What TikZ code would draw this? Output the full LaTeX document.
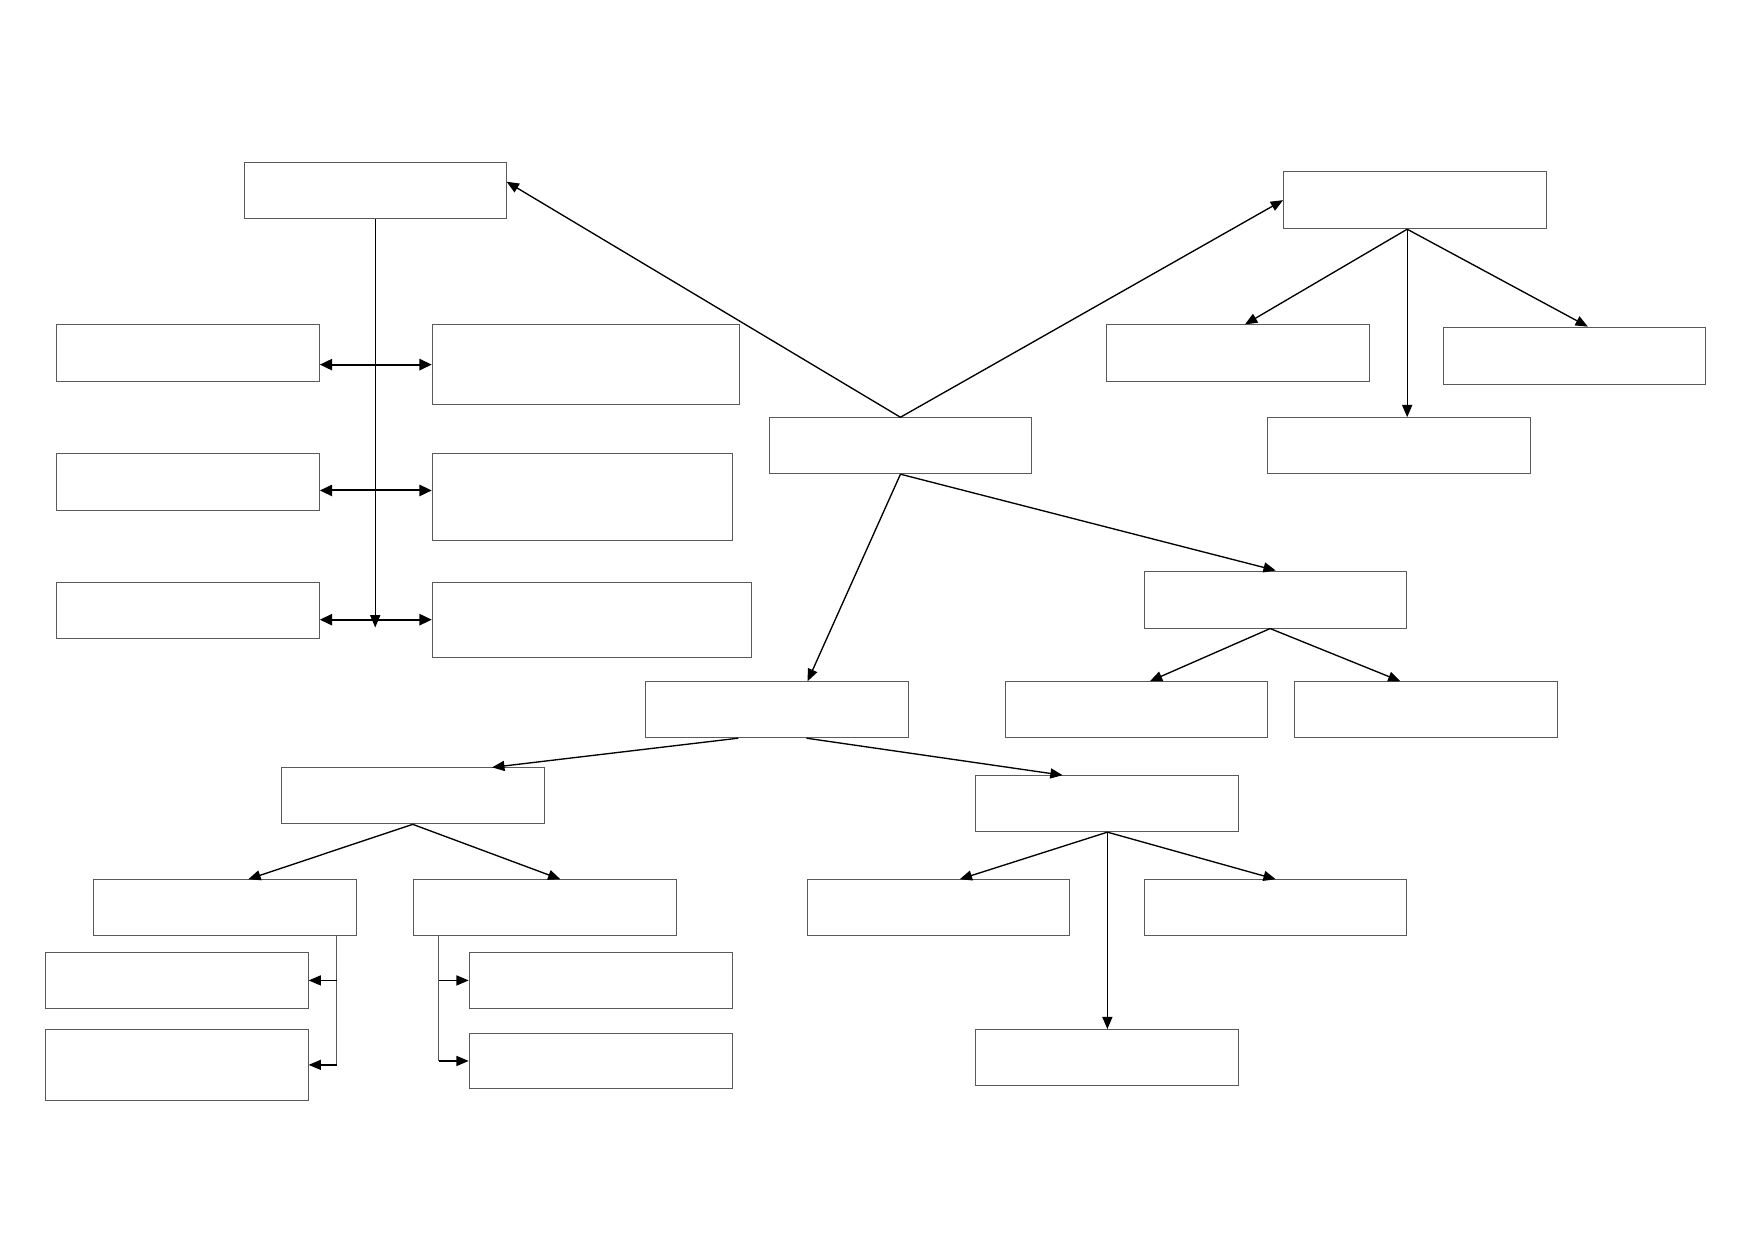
\documentclass[tikz,border=0pt]{standalone}
\usetikzlibrary{arrows.meta}
\begin{document}
\begin{tikzpicture}[x=1pt,y=1pt,yscale=-1,xscale=1,
        blank/.style={draw={rgb, 255:red, 90; green, 90; blue, 90 },line width=0.9pt,inner sep=0pt,anchor=north west,minimum width=235pt,minimum height=50pt},
        link/.style={line width=1.2pt,-{Triangle[length=11pt,width=9pt]}},
        twoway/.style={line width=1.8pt,{Triangle[length=11pt,width=10pt]}-{Triangle[length=11pt,width=10pt]}},
        stem/.style={draw={rgb, 255:red, 90; green, 90; blue, 90 },line width=0.9pt}]
        \useasboundingbox (0,0) rectangle (1568,1108);
        \node [blank,minimum width=234pt] (A) at (218,145) {};
        \node [blank,minimum height=51pt] (L1) at (50,290) {};
        \node [blank,minimum height=51pt] (L2) at (50,405) {};
        \node [blank] (L3) at (50,520) {};
        \node [blank,minimum width=275pt,minimum height=71pt] (R1) at (386,290) {};
        \node [blank,minimum width=268pt,minimum height=78pt] (R2) at (386,405) {};
        \node [blank,minimum width=285pt,minimum height=67pt] (R3) at (386,520) {};
        \node [blank] (C) at (687,373) {};
        \node [blank,minimum height=51pt] (T) at (1147,153) {};
        \node [blank,minimum height=51pt] (T1) at (989,290) {};
        \node [blank,minimum width=234pt,minimum height=51pt] (T2) at (1290,292) {};
        \node [blank] (T3) at (1133,373) {};
        \node [blank,minimum width=234pt,minimum height=51pt] (M) at (1023,510) {};
        \node [blank] (M1) at (898,609) {};
        \node [blank] (M2) at (1157,609) {};
        \node [blank] (D) at (577,609) {};
        \node [blank] (E) at (251,686) {};
        \node [blank] (F) at (872,693) {};
        \node [blank] (E1) at (83,786) {};
        \node [blank] (E2) at (369,786) {};
        \node [blank] (E1a) at (40,851) {};
        \node [blank,minimum height=63pt] (E1b) at (40,920) {};
        \node [blank] (E2a) at (419,851) {};
        \node [blank] (E2b) at (419,923) {};
        \node [blank] (F1) at (721,786) {};
        \node [blank,minimum width=234pt] (F2) at (1023,786) {};
        \node [blank] (F3) at (872,920) {};
        \coordinate (spineEnd) at ([yshift=7pt]R3.west);
        \coordinate (r2in) at ([yshift=-6pt]R2.west);
        \coordinate (tfork) at ([xshift=-7pt]T.south);
        \coordinate (mfork) at ([xshift=-5pt]M.south);
        \coordinate (e1x) at ([xshift=-18pt]E1.south east);
        \coordinate (e2x) at ([xshift=23pt]E2.south west);
        \draw [link] (A.south) -- (A.south |- spineEnd);
        \draw [twoway] (R1.west -| L1.east) -- (R1.west);
        \draw [twoway] (r2in -| L2.east) -- (r2in);
        \draw [twoway] (R3.west -| L3.east) -- (R3.west);
        \draw [link] (C.north) -- ([yshift=-8pt]A.east);
        \draw [link] (C.north) -- (T.west);
        \draw [link] (tfork) -- ([xshift=6pt]T1.north);
        \draw [link] (tfork) -- (tfork |- T3.north);
        \draw [link] (tfork) -- ([xshift=12pt]T2.north);
        \draw [link] (C.south) -- ([xshift=27pt]D.north);
        \draw [link] (C.south) -- (M.north);
        \draw [link] (mfork) -- ([xshift=12pt]M1.north);
        \draw [link] (mfork) -- ([xshift=-23pt]M2.north);
        \draw [link] ([xshift=-35pt]D.south) -- ([xshift=71pt]E.north);
        \draw [link] ([xshift=26pt]D.south) -- ([xshift=-40pt]F.north);
        \draw [link] (E.south) -- ([xshift=21pt]E1.north);
        \draw [link] (E.south) -- ([xshift=14pt]E2.north);
        \draw [link] (F.south) -- ([xshift=19pt]F1.north);
        \draw [link] (F.south) -- (F2.north);
        \draw [link] (F.south) -- (F3.north);
        \draw [stem] (e1x) -- (e1x |- E1b.east);
        \draw [link] (e1x |- E1a.east) -- (E1a.east);
        \draw [link] (e1x |- E1b.east) -- (E1b.east);
        \draw [stem] (e2x) -- (e2x |- E2b.west);
        \draw [link] (e2x |- E2a.west) -- (E2a.west);
        \draw [link] (e2x |- E2b.west) -- (E2b.west);
\end{tikzpicture}
\end{document}
